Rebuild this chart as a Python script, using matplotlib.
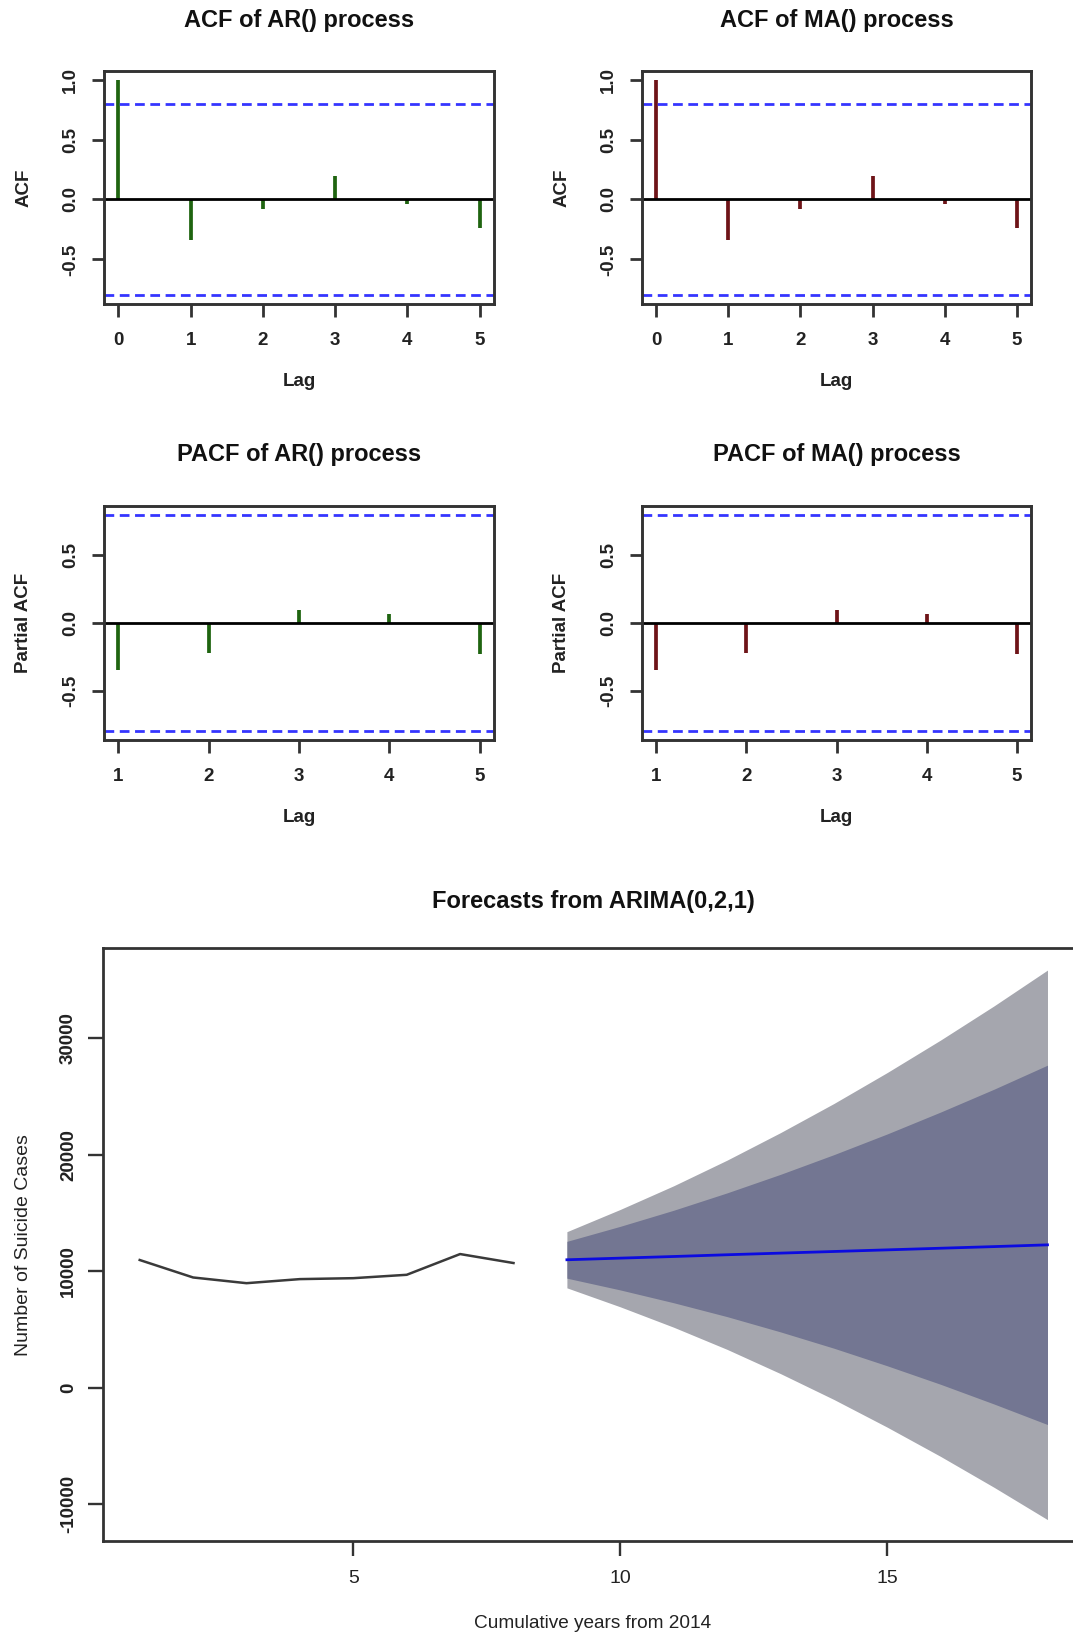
import matplotlib
matplotlib.use("Agg")
import matplotlib.pyplot as plt

plt.rcParams['font.family'] = ['Liberation Sans', 'DejaVu Sans']

# ACF / PACF values (same series shown for AR and MA panels)
acf_lags = [0, 1, 2, 3, 4, 5]
acf_ar = [1.0, -0.335, -0.077, 0.20, -0.04, -0.236]
acf_ma = [1.0, -0.335, -0.077, 0.20, -0.04, -0.236]
pacf_lags = [1, 2, 3, 4, 5]
pacf_ar = [-0.345, -0.222, 0.094, 0.064, -0.232]
pacf_ma = [-0.345, -0.222, 0.094, 0.064, -0.232]
conf_limit = 0.80

# Forecast panel
hist_years = [1, 2, 3, 4, 5, 6, 7, 8]
hist_cases = [10970, 9470, 8980, 9330, 9410, 9700, 11480, 10710]
fc_years = [9, 10, 11, 12, 13, 14, 15, 16, 17, 18]
fc_mean = [10990, 11130, 11270, 11420, 11560, 11700, 11840, 11980, 12120, 12270]
fc_hi80 = [12570, 13860, 15240, 16730, 18320, 20010, 21790, 23670, 25630, 27690]
fc_lo80 = [9410, 8400, 7300, 6110, 4800, 3400, 1890, 300, -1390, -3150]
fc_hi95 = [13400, 15310, 17340, 19540, 21900, 24400, 27060, 29850, 32780, 35850]
fc_lo95 = [8580, 6950, 5200, 3300, 1220, -1000, -3380, -5890, -8540, -11310]

W, H = 1073, 1638
fig = plt.figure(figsize=(W / 100, H / 100), dpi=100)
EDGE = '#333333'


def px_axes(l, t, r, b):
    return fig.add_axes([l / W, 1 - b / H, (r - l) / W, (b - t) / H])


def style_box(ax, lw=2.1):
    for s in ax.spines.values():
        s.set_linewidth(lw)
        s.set_color(EDGE)


def corr_panel(ax, lags, vals, color, yticks, ylim, title, ylabel, l, t, r, b):
    ax.vlines(lags, 0, vals, color=color, linewidth=2.7)
    ax.axhline(0, color='black', linewidth=2.0)
    for c in (conf_limit, -conf_limit):
        ax.axhline(c, color='#3535ff', linewidth=2.0, linestyle=(0, (3.5, 2)))
    ax.set_xlim(lags[0] - 0.04 * (lags[-1] - lags[0]), lags[-1] + 0.04 * (lags[-1] - lags[0]))
    ax.set_ylim(*ylim)
    ax.set_xticks(lags)
    ax.set_yticks(yticks)
    ax.set_yticklabels([f'{v:.1f}' for v in yticks])
    ax.tick_params(length=9, width=2.0, color=EDGE, labelsize=13.5, pad=11)
    ax.tick_params(axis='y', labelrotation=90, pad=9)
    for lab in ax.get_xticklabels() + ax.get_yticklabels():
        lab.set_fontweight('bold')
        lab.set_color('#222222')
    for lab in ax.get_yticklabels():
        lab.set_va('center')
    style_box(ax)
    cx = (l + r) / 2
    fig.text(cx / W, 1 - (t - 51) / H, title, ha='center', va='center',
             fontsize=17, fontweight='bold', color='#111111')
    fig.text(cx / W, 1 - (b + 78) / H, 'Lag', ha='center', va='center',
             fontsize=13.5, fontweight='bold', color='#222222')
    fig.text((l - 80) / W, 1 - ((t + b) / 2) / H, ylabel, ha='center', va='center',
             rotation=90, fontsize=13.5, fontweight='bold', color='#222222')


acf_ylim = (-0.872, 1.072)
pacf_ylim = (-0.864, 0.864)

ax1 = px_axes(104, 71, 494, 304)
corr_panel(ax1, acf_lags, acf_ar, '#1f6410', [-0.5, 0.0, 0.5, 1.0], acf_ylim,
           'ACF of AR() process', 'ACF', 104, 71, 494, 304)
ax2 = px_axes(642, 71, 1031, 304)
corr_panel(ax2, acf_lags, acf_ma, '#6e1418', [-0.5, 0.0, 0.5, 1.0], acf_ylim,
           'ACF of MA() process', 'ACF', 642, 71, 1031, 304)
ax3 = px_axes(104, 506, 494, 740)
corr_panel(ax3, pacf_lags, pacf_ar, '#1f6410', [-0.5, 0.0, 0.5], pacf_ylim,
           'PACF of AR() process', 'Partial ACF', 104, 506, 494, 740)
ax4 = px_axes(642, 506, 1031, 740)
corr_panel(ax4, pacf_lags, pacf_ma, '#6e1418', [-0.5, 0.0, 0.5], pacf_ylim,
           'PACF of MA() process', 'Partial ACF', 642, 506, 1031, 740)

# Forecast panel (right edge runs past the figure, as in the source image)
ax5 = px_axes(103.4, 948, 1083.8, 1541)
ax5.fill_between(fc_years, fc_lo95, fc_hi95, color='#a5a6ae', linewidth=0)
ax5.fill_between(fc_years, fc_lo80, fc_hi80, color='#737692', linewidth=0)
ax5.plot(hist_years, hist_cases, color='#3a3a3a', linewidth=1.8)
ax5.plot(fc_years, fc_mean, color='#0b0be0', linewidth=2.0)
ax5.set_xlim(0.32, 18.68)
ax5.set_ylim(-13145, 37745)
ax5.set_xticks([5, 10, 15])
ax5.set_yticks([-10000, 0, 10000, 20000, 30000])
ax5.set_yticklabels(['-10000', '0', '10000', '20000', '30000'])
ax5.tick_params(length=11, width=1.7, color=EDGE, pad=10)
ax5.tick_params(axis='x', labelsize=14)
ax5.tick_params(axis='y', labelsize=13.5, labelrotation=90, pad=8)
for lab in ax5.get_xticklabels():
    lab.set_color('#222222')
for lab in ax5.get_yticklabels():
    lab.set_va('center')
    lab.set_color('#222222')
    lab.set_fontweight('semibold')
style_box(ax5, 2.0)
fig.text(593 / W, 1 - 901 / H, 'Forecasts from ARIMA(0,2,1)', ha='center', va='center',
         fontsize=17, fontweight='bold', color='#111111')
fig.text(593 / W, 1 - 1623 / H, 'Cumulative years from 2014', ha='center', va='center',
         fontsize=13.7, color='#222222')
fig.text(24 / W, 1 - 1245 / H, 'Number of Suicide Cases', ha='center', va='center',
         rotation=90, fontsize=14, color='#222222')

fig.savefig('out.png', dpi=100)
